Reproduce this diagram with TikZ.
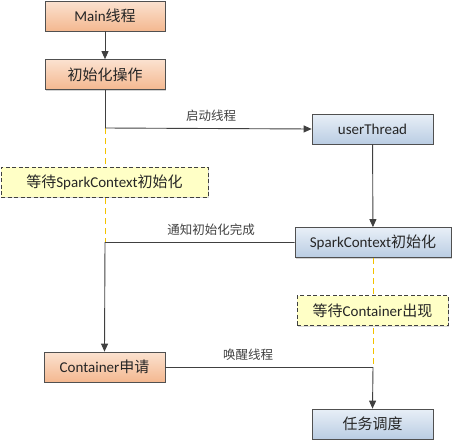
\documentclass[tikz,border=0pt]{standalone}
\usepackage{fontspec}
\setmainfont{Carlito}
\newfontfamily\cjk{Noto Sans CJK SC}
\usetikzlibrary{arrows.meta,shadows}
\definecolor{linec}{HTML}{404040}
\definecolor{txt}{HTML}{262626}
\definecolor{orTop}{HTML}{FBE2D0}
\definecolor{orBot}{HTML}{F4B890}
\definecolor{blTop}{HTML}{E8EFF7}
\definecolor{blBot}{HTML}{BACDE3}
\definecolor{ylFill}{HTML}{FFFFC6}
\definecolor{ylLine}{HTML}{F2C200}
\definecolor{boxedge}{HTML}{505050}
\begin{document}
\begin{tikzpicture}[x=1pt,y=-1pt,
  base/.style={draw=boxedge,line width=0.7pt,minimum height=30pt,inner sep=0pt,text=txt,font=\fontsize{15}{17}\selectfont,
    drop shadow={shadow xshift=1.2pt,shadow yshift=-1.2pt,opacity=0.35,fill=gray}},
  orbox/.style={base,top color=orTop,bottom color=orBot},
  blbox/.style={base,top color=blTop,bottom color=blBot},
  ylbox/.style={draw=linec,dashed,dash pattern=on 4pt off 2.5pt,line width=0.7pt,fill=ylFill,minimum height=30pt,inner sep=0pt,text=txt,font=\fontsize{15}{17}\selectfont,
    drop shadow={shadow xshift=1.2pt,shadow yshift=-1.2pt,opacity=0.3,fill=gray}},
  conn/.style={draw=linec,line width=0.9pt},
  arr/.style={conn,-{Triangle[length=8pt,width=7pt]}},
  ydash/.style={draw=ylLine,line width=1pt,dash pattern=on 6pt off 4pt},
  lbl/.style={font=\cjk\fontsize{12.5}{14}\selectfont,text=linec}
]
\useasboundingbox (0,0) rectangle (453,442);
\coordinate (c1) at (105,128);
\coordinate (c2) at (105,242.5);
\coordinate (c3) at (373,367);
\node[orbox,minimum width=120pt] (main) at (105,16) {Main{\cjk 线程}};
\node[orbox,minimum width=120pt] (init) at (105,74.5) {\cjk 初始化操作};
\node[blbox,minimum width=121pt] (ut) at (372.5,129) {userThread};
\node[blbox,minimum width=156pt] (sc) at (373,242.5) {SparkContext{\cjk 初始化}};
\node[orbox,minimum width=121pt] (cont) at (104.5,367) {Container{\cjk 申请}};
\node[blbox,minimum width=121pt] (task) at (372.5,424) {\cjk 任务调度};
\draw[ydash] (c1) -- (c2);
\draw[ydash] (sc.south) -- (c3);
\node[ylbox,minimum width=207pt] (w1) at (104.5,182) {{\cjk 等待}SparkContext{\cjk 初始化}};
\node[ylbox,minimum width=151pt] (w2) at (372.5,310.5) {{\cjk 等待}Container{\cjk 出现}};
\draw[arr] (main) -- (init);
\draw[conn] (init.south) -- (c1);
\draw[arr] (c1) -- (ut.west);
\draw[arr] (ut) -- (sc);
\draw[arr] (sc.west) -- (c2) -- (cont.north);
\draw[conn] (cont.east) -- (c3);
\draw[arr] (c3) -- (task.north);
\node[lbl] (l1) at (211,116) {启动线程};
\node[lbl] (l2) at (211,229.5) {通知初始化完成};
\node[lbl] (l3) at (248,355) {唤醒线程};
\end{tikzpicture}
\end{document}
